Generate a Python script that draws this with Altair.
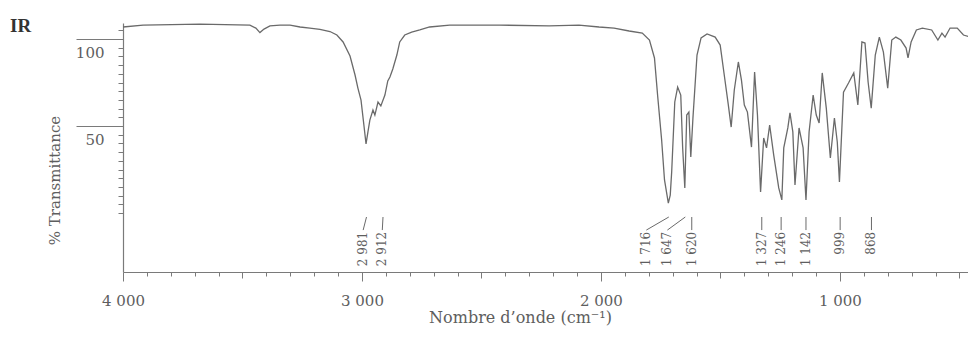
import altair as alt
import pandas as pd

# ---- spectrum (wavenumber in cm-1, % transmittance)
wavenumber = [4000, 3916, 3678, 3469, 3444, 3427, 3410, 3385, 3343, 3301, 3259, 3218, 3176, 3134,
              3105, 3079, 3050, 3029, 3017, 3004, 2992, 2983, 2975, 2967, 2954, 2946, 2933, 2921,
              2904, 2892, 2883, 2871, 2854, 2842, 2821, 2792, 2758, 2717, 2633, 2425, 2217, 2092,
              2008, 1945, 1882, 1827, 1797, 1776, 1763, 1746, 1734, 1718, 1710, 1704, 1691, 1679,
              1666, 1658, 1649, 1641, 1632, 1624, 1615, 1598, 1581, 1556, 1522, 1501, 1484, 1467,
              1455, 1442, 1425, 1412, 1400, 1387, 1370, 1357, 1345, 1332, 1319, 1307, 1294, 1277,
              1256, 1243, 1235, 1218, 1209, 1197, 1188, 1171, 1154, 1142, 1129, 1112, 1099, 1087,
              1074, 1057, 1040, 1023, 1011, 1002, 985, 964, 942, 925, 908, 895, 882, 869, 852, 835,
              818, 800, 783, 766, 745, 723, 715, 702, 680, 655, 616, 590, 573, 560, 539, 509, 483,
              453, 423, 410]
transmittance = [106.9, 108.0, 108.6, 108.0, 106.3, 103.7, 105.7, 107.5, 108.0, 108.0, 106.9, 106.3,
                 105.5, 104.3, 102.3, 98.3, 90.2, 79.3, 71.8, 64.9, 50.6, 39.7, 46.6, 53.4, 59.2,
                 56.3, 63.8, 61.5, 67.8, 75.9, 78.2, 82.8, 90.8, 98.3, 102.3, 104.0, 105.2, 106.9,
                 108.0, 108.0, 107.5, 108.0, 106.9, 106.3, 104.6, 103.4, 99.4, 89.1, 67.8, 42.0,
                 19.0, 5.7, 10.3, 23.6, 63.8, 72.4, 67.8, 37.4, 14.4, 56.3, 58.0, 32.2, 54.6, 90.8,
                 100.6, 102.9, 101.1, 96.5, 79.3, 62.1, 49.4, 70.7, 86.8, 76.4, 62.1, 58.0, 37.9,
                 81.0, 56.3, 12.1, 43.1, 37.4, 50.6, 33.3, 14.4, 7.5, 37.4, 48.9, 57.5, 46.6, 16.1,
                 48.9, 37.4, 7.5, 46.6, 67.8, 56.3, 51.7, 80.5, 60.3, 31.6, 54.6, 40.8, 17.8, 69.5,
                 74.7, 80.5, 62.1, 98.3, 97.7, 75.3, 60.3, 90.8, 101.1, 92.5, 71.8, 99.4, 101.1,
                 99.4, 94.8, 89.1, 98.3, 105.2, 106.3, 105.2, 99.4, 103.4, 101.1, 106.3, 106.3,
                 102.3, 101.1, 99.4, 100.6]

# ---- peak annotations
peak_wn = [2981, 2912, 1716, 1647, 1620, 1327, 1246, 1142, 999, 868]
label_wn = [2995, 2915, 1810, 1722, 1620, 1327, 1246, 1142, 999, 868]
peak_text = ["2 981", "2 912", "1 716", "1 647", "1 620", "1 327", "1 246", "1 142", "999", "868"]

x_tick_values = list(range(500, 4001, 100))
y_tick_values = list(range(0, 106, 5))

spec_df = pd.DataFrame({"wn": wavenumber, "T": transmittance})
peaks_df = pd.DataFrame({"wn": peak_wn, "lab_wn": label_wn, "text": peak_text})
title_df = pd.DataFrame({"t": ["IR"]})

GRAY = "#6a6a6a"
AX = "#7a7a7a"
TXT = "#5e5e5e"
SERIF = "DejaVu Serif"

xscale = alt.Scale(domain=[4000, 464], nice=False, zero=False)
yscale = alt.Scale(domain=[-33.9, 109.2], nice=False, zero=False)

x_axis = alt.Axis(
    values=x_tick_values,
    tickSize={"condition": [{"test": "datum.value % 1000 === 0", "value": 9},
                            {"test": "datum.value % 500 === 0", "value": 6}], "value": 4},
    labelExpr="datum.value % 1000 === 0 ? replace(format(datum.value, ','), ',', ' ') : ''",
    labelOverlap=False, labelFlush=False, labelPadding=12,
    labelFont=SERIF, labelFontSize=15, labelColor=TXT,
    domainColor=AX, tickColor=AX, domainWidth=1.2, tickWidth=1,
    grid=False,
    title="Nombre d’onde (cm⁻¹)", titleFont=SERIF, titleFontSize=16, titleFontWeight="normal",
    titleColor=TXT, titleX=397, titleY=45, titleAlign="center", titleBaseline="middle",
)

y_axis = alt.Axis(
    values=y_tick_values,
    tickSize={"condition": {"test": "datum.value === 50 || datum.value === 100", "value": 47},
              "value": 5},
    labelExpr="(datum.value === 50 || datum.value === 100) ? datum.label : ''",
    labelOverlap=False, labelFlush=False, labelAlign="right", labelBaseline="top",
    labelOffset=6, labelPadding=-28,
    labelFont=SERIF, labelFontSize=15, labelColor=TXT,
    domainColor=AX, tickColor=AX, domainWidth=1.2, tickWidth=1,
    grid=False,
    title="% Transmittance", titleFont=SERIF, titleFontSize=15, titleFontWeight="normal",
    titleColor=TXT, titleX=-69, titleY=157, titleAngle=270, titleAlign="center",
    titleBaseline="middle",
)

line = alt.Chart(spec_df).mark_line(color=GRAY, strokeWidth=1.3, clip=True).encode(
    x=alt.X("wn:Q", scale=xscale, axis=x_axis),
    y=alt.Y("T:Q", scale=yscale, axis=y_axis),
    order="wn:Q",
)

leaders = alt.Chart(peaks_df).transform_calculate(
    ytop="-2.3", ybot="-9.8"
).mark_rule(color=GRAY, strokeWidth=1).encode(
    x=alt.X("wn:Q", scale=xscale, axis=x_axis),
    x2="lab_wn:Q",
    y=alt.Y("ytop:Q", scale=yscale, axis=y_axis),
    y2="ybot:Q",
)

labels = alt.Chart(peaks_df).transform_calculate(
    ytext="-10.8"
).mark_text(
    angle=270, align="right", baseline="middle", font=SERIF, fontSize=12, color=TXT
).encode(
    x=alt.X("lab_wn:Q", scale=xscale, axis=x_axis),
    y=alt.Y("ytext:Q", scale=yscale, axis=y_axis),
    text="text:N",
)

ir = alt.Chart(title_df).mark_text(
    align="left", baseline="alphabetic", font="Liberation Serif", fontSize=19,
    fontWeight="bold", color="#333333"
).encode(x=alt.value(-113), y=alt.value(9), text="t:N")

chart = alt.layer(line, leaders, labels, ir).properties(
    width=845, height=249,
    autosize=alt.AutoSizeParams(type="none"),
    padding={"left": 115, "top": 15, "right": 0, "bottom": 54},
    background="white",
).configure_view(stroke=None)

chart.save("out.html", embed_options={"renderer": "svg", "actions": False})
